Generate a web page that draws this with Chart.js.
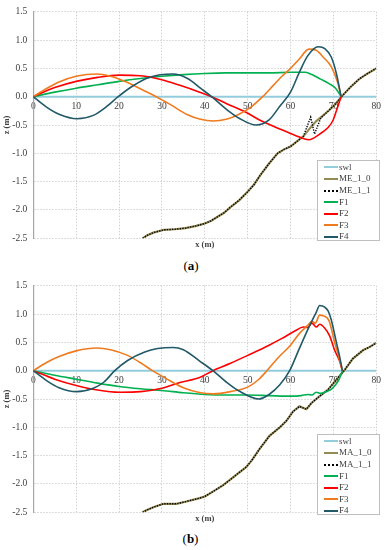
<!DOCTYPE html>
<html><head><meta charset="utf-8">
<script src="https://cdn.jsdelivr.net/npm/chart.js@4.4.0/dist/chart.umd.min.js"></script>
<style>
html,body{margin:0;padding:0;background:#fff;width:385px;height:550px;overflow:hidden;}
.wrap{position:absolute;left:0;width:385px;height:252px;}
.cap{position:absolute;font-family:'Liberation Serif',serif;font-size:13px;line-height:15px;color:#000;width:40px;text-align:center;}
.legend{position:absolute;left:317px;width:63px;height:81px;background:#fff;border:1px solid #bfbfbf;box-sizing:border-box;font-family:'Liberation Serif',serif;font-size:9px;color:#404040;}
.li{position:absolute;left:0;height:11px;line-height:11px;display:flex;align-items:center;white-space:nowrap;}
.sw{width:13.7px;margin-left:6px;margin-right:1.3px;height:0;}
</style></head><body>
<div class="wrap" style="top:0"><canvas id="ca"></canvas></div>
<div class="wrap" style="top:274px"><canvas id="cb"></canvas></div>
<div class="cap" style="left:171px;top:258px">(<b>a</b>)</div>
<div class="cap" style="left:170.5px;top:530.5px">(<b>b</b>)</div>
<div class="legend" id="la" style="top:160px"></div>
<div class="legend" id="lb" style="top:434px"></div>
<script>
// ---- tick labels ----
const xTicks = [0, 10, 20, 30, 40, 50, 60, 70, 80];
const xTickLabels = ['0', '10', '20', '30', '40', '50', '60', '70', '80'];
const yTicks = [-2.5, -2.0, -1.5, -1.0, -0.5, 0.0, 0.5, 1.0, 1.5];
const yTickLabels = ['-2.5', '-2.0', '-1.5', '-1.0', '-0.5', '0.0', '0.5', '1.0', '1.5'];

// ---- still water level ----
const swlX = [0, 80];
const swlZ = [0, 0];

// ---- chart (a) ----
const me0X = [25.5, 26.5, 28, 30.5, 33, 35.5, 38, 40, 41.5, 43, 44.5, 46, 48, 50, 51.5, 53, 55, 57, 58.5, 60, 61.5, 63, 64.5, 66, 67.5, 69, 70.5, 72, 74, 76, 78, 80];
const me0Z = [-2.5, -2.45, -2.40, -2.35, -2.34, -2.32, -2.28, -2.24, -2.19, -2.12, -2.05, -1.95, -1.83, -1.68, -1.55, -1.38, -1.18, -1.0, -0.93, -0.88, -0.79, -0.70, -0.56, -0.43, -0.34, -0.24, -0.13, 0.01, 0.17, 0.31, 0.41, 0.50];
const me1X = [25.5, 26.5, 28, 30.5, 33, 35.5, 38, 40, 41.5, 43, 44.5, 46, 48, 50, 51.5, 53, 55, 57, 58.5, 60, 61.5, 63, 64.7, 65.6, 67.1, 68.3, 69, 70.5, 72, 74, 76, 78, 80];
const me1Z = [-2.5, -2.45, -2.40, -2.35, -2.34, -2.32, -2.28, -2.24, -2.19, -2.12, -2.05, -1.95, -1.83, -1.68, -1.55, -1.38, -1.18, -1.0, -0.93, -0.88, -0.79, -0.70, -0.36, -0.66, -0.37, -0.29, -0.24, -0.13, 0.01, 0.17, 0.31, 0.41, 0.50];
const aF1X = [0, 5, 10, 15, 20, 25, 30, 35, 40, 45, 50, 55, 60, 63.5, 65, 67, 69, 70.5, 71.8];
const aF1Z = [0, 0.08, 0.15, 0.21, 0.27, 0.32, 0.36, 0.39, 0.41, 0.42, 0.42, 0.42, 0.43, 0.43, 0.39, 0.31, 0.23, 0.15, 0];
const aF2X = [0, 5, 10, 15, 20, 25, 30, 34.2, 38.8, 41.6, 45, 49.7, 53, 57.5, 61, 64.3, 66.8, 68.7, 69.9, 70.7, 71.8];
const aF2Z = [0, 0.16, 0.27, 0.34, 0.38, 0.37, 0.30, 0.20, 0.08, 0, -0.12, -0.28, -0.42, -0.57, -0.68, -0.76, -0.66, -0.55, -0.42, -0.25, 0];
const aF3X = [0, 3, 6, 10, 14.8, 18, 22, 26, 28.7, 32, 36, 39, 42, 45, 48, 51, 53.5, 56, 58, 60, 62, 64.3, 66, 67.6, 69.5, 71, 71.8];
const aF3Z = [0, 0.14, 0.26, 0.36, 0.40, 0.36, 0.25, 0.10, 0, -0.14, -0.32, -0.40, -0.43, -0.40, -0.31, -0.17, 0, 0.20, 0.36, 0.50, 0.66, 0.84, 0.82, 0.70, 0.53, 0.25, 0];
const aF4X = [0, 3, 6, 10.2, 14, 17, 19.8, 23, 27, 32.6, 36, 39, 41.6, 45, 48, 52, 55, 57.5, 60, 62, 64, 66.5, 68, 69.5, 70.7, 71.8];
const aF4Z = [0, -0.18, -0.31, -0.39, -0.33, -0.18, 0, 0.18, 0.34, 0.40, 0.32, 0.15, 0, -0.22, -0.38, -0.50, -0.41, -0.17, 0.08, 0.42, 0.72, 0.88, 0.85, 0.70, 0.41, 0];

// ---- chart (b) ----
const ma0X = [25.5, 26.5, 28, 30.3, 33.4, 35.7, 38.8, 40, 42, 44.3, 46, 48, 49.7, 51, 52.8, 55.1, 57.5, 59, 60.6, 62.1, 63.7, 64.9, 66.8, 68.7, 70.7, 72.6, 74.5, 76.9, 78.5, 80];
const ma0Z = [-2.5, -2.46, -2.41, -2.35, -2.35, -2.31, -2.25, -2.22, -2.13, -2.02, -1.92, -1.80, -1.70, -1.58, -1.38, -1.15, -1.0, -0.89, -0.72, -0.63, -0.68, -0.57, -0.45, -0.34, -0.16, 0.01, 0.21, 0.36, 0.42, 0.49];
const ma1X = [25.5, 26.5, 28, 30.3, 33.4, 35.7, 38.8, 40, 42, 44.3, 46, 48, 49.7, 51, 52.8, 55.1, 57.5, 59, 60.6, 62.1, 63.7, 64.9, 66.8, 68.7, 70.7, 72.6, 74.5, 76.9, 78.5, 80];
const ma1Z = [-2.5, -2.46, -2.41, -2.35, -2.35, -2.31, -2.25, -2.22, -2.13, -2.02, -1.92, -1.80, -1.70, -1.58, -1.38, -1.15, -1.0, -0.89, -0.72, -0.63, -0.68, -0.57, -0.45, -0.34, -0.16, 0.01, 0.21, 0.36, 0.42, 0.49];
const bF1X = [0, 5, 10, 15, 20, 25, 30, 35, 40, 45, 50, 55, 60, 62.5, 64, 65, 66, 67, 68.3, 69.5, 70.5, 71.3, 72.1];
const bF1Z = [0, -0.08, -0.15, -0.22, -0.28, -0.32, -0.35, -0.39, -0.42, -0.43, -0.43, -0.44, -0.45, -0.44, -0.42, -0.43, -0.38, -0.40, -0.37, -0.33, -0.25, -0.16, 0];
const bF2X = [0, 5, 10, 15, 20, 25, 30, 34.2, 38.8, 41.9, 46, 50, 55, 58, 61, 63, 64, 65, 66, 66.8, 68, 69.1, 70.3, 71.4, 72.1];
const bF2Z = [0, -0.15, -0.26, -0.34, -0.38, -0.37, -0.31, -0.21, -0.12, 0, 0.13, 0.27, 0.45, 0.57, 0.70, 0.77, 0.76, 0.84, 0.77, 0.82, 0.75, 0.62, 0.36, 0.18, 0];
const bF3X = [0, 3, 6, 10, 14.8, 18, 22, 25, 27.8, 31, 35, 39, 42, 46, 50, 52.5, 54.5, 57, 60, 62, 64, 65, 65.8, 66.8, 67.6, 69, 70.3, 71.4, 72.1];
const bF3Z = [0, 0.14, 0.25, 0.35, 0.40, 0.37, 0.27, 0.14, 0, -0.14, -0.30, -0.39, -0.41, -0.37, -0.29, -0.16, 0, 0.22, 0.45, 0.65, 0.80, 0.87, 0.84, 0.98, 0.97, 0.88, 0.50, 0.21, 0];
const bF4X = [0, 3, 6, 10.1, 14, 16.5, 19, 22, 26, 29, 32.6, 35, 38.8, 41.9, 45, 48, 52.6, 55, 57.5, 59.8, 62, 64, 66, 66.8, 68, 68.8, 69.5, 70.7, 71.4, 72.1];
const bF4Z = [0, -0.17, -0.30, -0.37, -0.31, -0.20, 0, 0.18, 0.33, 0.39, 0.41, 0.37, 0.17, 0, -0.20, -0.36, -0.50, -0.42, -0.25, 0, 0.38, 0.72, 1.03, 1.15, 1.12, 1.05, 0.90, 0.50, 0.27, 0];

// ---- styles ----
const C = {swl: '#93cddd', bed: '#948a54', bed1: '#000000', F1: '#00b050', F2: '#ff0000', F3: '#f07a1e', F4: '#215968'};
const FONT = 'Liberation Serif';

function series(label, xs, zs, color, width, dash, smooth) {
  return {label, xs, zs, color, width, dash, smooth};
}

function build(canvasId, legendId, list) {
  const n = list.length;
  const chart = new Chart(document.getElementById(canvasId), {
    type: 'line',
    data: {
      datasets: list.map((s, i) => ({
        label: s.label,
        data: s.xs.map((x, j) => ({x: x, y: s.zs[j]})),
        borderColor: s.color,
        backgroundColor: s.color,
        borderWidth: s.width,
        borderDash: s.dash,
        pointRadius: 0,
        pointHoverRadius: 0,
        fill: false,
        tension: s.smooth ? 0.4 : 0,
        cubicInterpolationMode: s.smooth ? 'monotone' : 'default',
        order: n - i
      }))
    },
    options: {
      responsive: true,
      maintainAspectRatio: false,
      animation: false,
      events: [],
      layout: {padding: {top: 7.3, right: 8.3, bottom: 1.7, left: 0}},
      plugins: {legend: {display: false}, tooltip: {enabled: false}},
      scales: {
        x: {
          type: 'linear', position: {y: 0}, min: 0, max: 80,
          afterBuildTicks: s => { s.ticks = xTicks.map(v => ({value: v})); },
          ticks: {padding: 4, color: '#404040', font: {family: FONT, size: 9.5}, maxRotation: 0, autoSkip: false,
                  callback: (v, i) => xTickLabels[i]},
          grid: {color: '#d2d2d2', lineWidth: 1, drawTicks: false},
          border: {display: false, dash: [1.5, 1.5]}
        },
        xt: {
          type: 'linear', position: 'bottom', min: 0, max: 80,
          ticks: {display: false}, grid: {display: false, drawTicks: false}, border: {display: false},
          title: {display: true, text: 'x (m)', color: '#404040', padding: 0,
                  font: {family: FONT, size: 8.5, weight: 'bold'}},
          afterFit: s => { s.height = 12; }
        },
        y: {
          type: 'linear', min: -2.5, max: 1.5,
          afterBuildTicks: s => { s.ticks = yTicks.map(v => ({value: v})); },
          ticks: {padding: 6, color: '#404040', font: {family: FONT, size: 9.5},
                  callback: (v, i) => yTickLabels[i]},
          grid: {color: '#d2d2d2', lineWidth: 1, drawTicks: false},
          border: {display: true, color: '#a6a6a6', width: 1.2, dash: [1.5, 1.5]},
          title: {display: true, text: 'z (m)', color: '#404040', padding: {top: 2, bottom: 0},
                  font: {family: FONT, size: 8.5, weight: 'bold'}},
          afterFit: s => { s.width = 33.3; }
        }
      }
    }
  });
  // legend built from the chart datasets
  const box = document.getElementById(legendId);
  chart.data.datasets.forEach((ds, i) => {
    const row = document.createElement('div');
    row.className = 'li';
    row.style.top = (0.8 + i * 11.6) + 'px';
    const sw = document.createElement('span');
    sw.className = 'sw';
    const dotted = ds.borderDash && ds.borderDash.length;
    sw.style.borderTop = (dotted ? '2px dotted ' : '2px solid ') + ds.borderColor;
    const tx = document.createElement('span');
    tx.textContent = ds.label;
    row.appendChild(sw);
    row.appendChild(tx);
    box.appendChild(row);
  });
  return chart;
}

build('ca', 'la', [
  series('swl', swlX, swlZ, C.swl, 2, [], false),
  series('ME_1_0', me0X, me0Z, C.bed, 2.2, [], false),
  series('ME_1_1', me1X, me1Z, C.bed1, 1.4, [1.3, 1.3], false),
  series('F1', aF1X, aF1Z, C.F1, 1.6, [], true),
  series('F2', aF2X, aF2Z, C.F2, 1.6, [], true),
  series('F3', aF3X, aF3Z, C.F3, 1.6, [], true),
  series('F4', aF4X, aF4Z, C.F4, 1.6, [], true)
]);
build('cb', 'lb', [
  series('swl', swlX, swlZ, C.swl, 2, [], false),
  series('MA_1_0', ma0X, ma0Z, C.bed, 2.2, [], false),
  series('MA_1_1', ma1X, ma1Z, C.bed1, 1.4, [1.3, 1.3], false),
  series('F1', bF1X, bF1Z, C.F1, 1.6, [], true),
  series('F2', bF2X, bF2Z, C.F2, 1.6, [], true),
  series('F3', bF3X, bF3Z, C.F3, 1.6, [], true),
  series('F4', bF4X, bF4Z, C.F4, 1.6, [], true)
]);
</script>
</body></html>
